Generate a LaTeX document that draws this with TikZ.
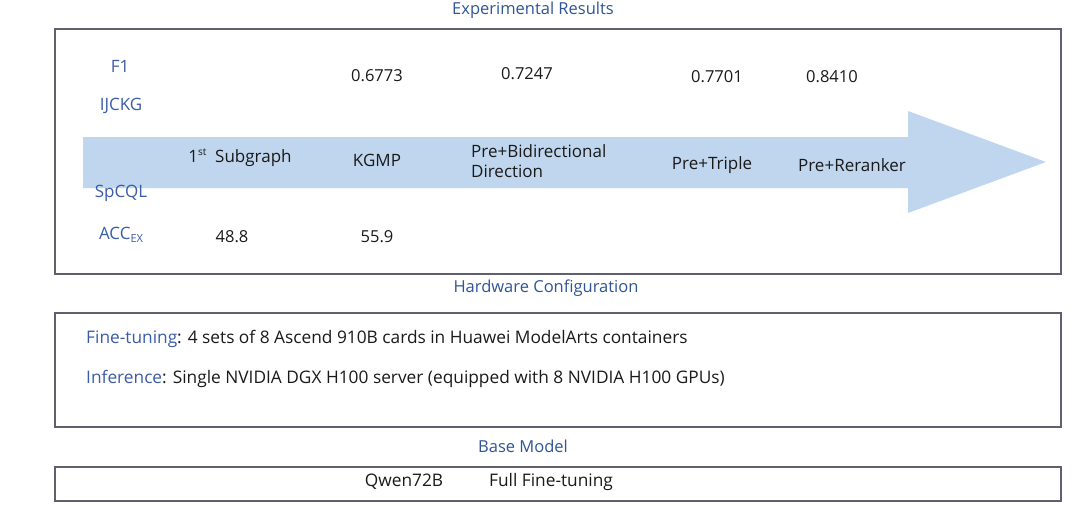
\documentclass[tikz,border=0pt]{standalone}
\usepackage{fontspec}
\setmainfont{Open Sans}
\definecolor{ttlblue}{HTML}{2F5597}
\definecolor{lblblue}{HTML}{3B5CA8}
\definecolor{arrowfill}{HTML}{BFD6EE}
\definecolor{boxline}{HTML}{5E6070}
\definecolor{txt}{HTML}{1A1A1A}
\tikzset{
  panel/.style={draw=boxline, line width=1.3pt},
  ttl/.style={text=ttlblue, font=\fontsize{16.5}{19}\selectfont, inner sep=0pt},
  lbl/.style={text=lblblue, font=\fontsize{17}{20}\selectfont, inner sep=0pt},
  val/.style={text=txt, font=\fontsize{16.5}{19}\selectfont, inner sep=0pt},
  hw/.style={text=txt, font=\fontsize{17.3}{19}\selectfont, inner sep=0pt, anchor=west},
}
\begin{document}
\begin{tikzpicture}[x=1pt,y=-1pt]
\useasboundingbox (0,0) rectangle (1080,506);
\fill[white] (0,0) rectangle (1080,506);

% Experimental results
\node[ttl] (t1) at (533,10) {Experimental Results};
\draw[panel] (55,29) rectangle (1061,274);
\fill[arrowfill] (83,137) -- (908,137) -- (908,111) -- (1046,162) -- (908,213) -- (908,188) -- (83,188) -- cycle;

\node[lbl] (f1) at (120,66) {F1};
\node[lbl] (ij) at (121,106) {IJCKG};
\node[lbl] (sp) at (121,193) {SpCQL};
\node[lbl] (acc) at (121,235) {ACC\raisebox{-0.35ex}{\fontsize{11}{12}\selectfont EX}};

\node[val] (v1) at (377,76) {0.6773};
\node[val] (v2) at (527,74) {0.7247};
\node[val] (v3) at (717,77) {0.7701};
\node[val] (v4) at (832,77) {0.8410};

\node[val, font=\fontsize{17}{20}\selectfont] (s1) at (240,158) {1\raisebox{0.8ex}{\fontsize{10}{11}\selectfont st}\ \ Subgraph};
\node[val, font=\fontsize{17}{20}\selectfont] (s2) at (377,160) {KGMP};
\node[val, anchor=west, align=left, font=\fontsize{17}{20}\selectfont] (s3) at (471,161) {Pre+Bidirectional\\Direction};
\node[val, font=\fontsize{17}{20}\selectfont] (s4) at (712,165) {Pre+Triple};
\node[val, font=\fontsize{17}{20}\selectfont] (s5) at (852,165) {Pre+Reranker};

\node[val] (a1) at (232,237) {48.8};
\node[val] (a2) at (377,237) {55.9};

% Hardware configuration
\node[ttl] (t2) at (546,288) {Hardware Configuration};
\draw[panel] (55,313) rectangle (1061,427);
\node[hw] (h1) at (86,339) {\textcolor{lblblue}{Fine-tuning}: 4 sets of 8 Ascend 910B cards in Huawei ModelArts containers};
\node[hw] (h2) at (86,379) {\textcolor{lblblue}{Inference}: Single NVIDIA DGX H100 server (equipped with 8 NVIDIA H100 GPUs)};

% Base model
\node[ttl] (t3) at (523,446) {Base Model};
\draw[panel] (55,467) rectangle (1061,501);
\node[hw, anchor=center] (b1) at (404,482) {Qwen72B};
\node[hw, anchor=center] (b2) at (551,482) {Full Fine-tuning};
\end{tikzpicture}
\end{document}
